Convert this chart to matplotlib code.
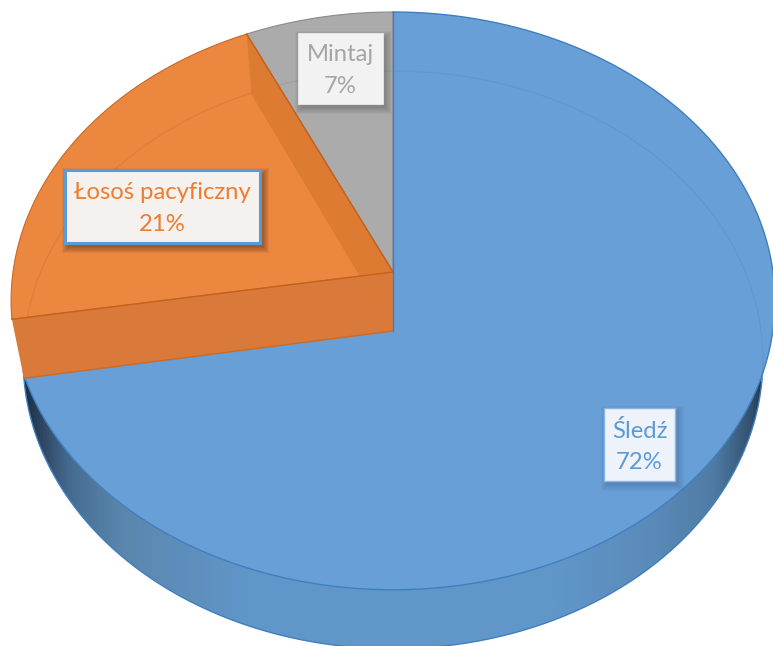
import numpy as np
import matplotlib
matplotlib.use('Agg')
import matplotlib.pyplot as plt
from matplotlib.colors import LinearSegmentedColormap
from matplotlib.patches import Polygon, Rectangle

plt.rcParams['font.family'] = ['Lato', 'Noto Sans', 'DejaVu Sans']

# data
names = ['Śledź', 'Łosoś pacyficzny', 'Mintaj']
values = [72.4, 20.7, 6.9]
label_colors = ['#5B9BD5', '#ED7D31', '#A5A5A5']

# pie geometry in pixels (perspective view)
cx = 393
top_cy = 272
low_cy = 331
top_rx = 380
low_rx = 368
ry = 286
persp = 0.1

ends = np.cumsum(values) / np.sum(values) * 360
blue_end = ends[0]
orange_end = ends[1]


def project(deg, rx, cy):
    t = np.radians(deg)
    x = np.sin(t)
    y = np.cos(t)
    w = 1 + persp * y
    return np.column_stack([cx + rx * x / w, cy - ry * y / w])


def arc(a, b, rx, cy):
    return project(np.linspace(a, b, 300), rx, cy)


fig = plt.figure(figsize=(7.73, 6.46), dpi=100)
ax = fig.add_axes([0, 0, 1, 1])
ax.set_xlim(0, 773)
ax.set_ylim(646, 0)
ax.axis('off')

top_c = np.array([[cx, top_cy]])
low_c = np.array([[cx, low_cy]])

# outer wall with shading, dark at both ends
wall_from = 360 - blue_end
wall_pts = np.vstack([arc(wall_from, blue_end, top_rx, top_cy),
                      arc(blue_end, wall_from, low_rx, low_cy)])
wall_cmap = LinearSegmentedColormap.from_list('wall', [
    (0.0, '#1c2b3f'), (0.025, '#2f4763'), (0.06, '#456b8f'), (0.13, '#5a86ad'),
    (0.30, '#6196c9'), (0.72, '#6196c9'), (0.85, '#5a8ab8'), (0.93, '#4f7ca5'),
    (0.98, '#33506f'), (1.0, '#1c2b3f')])
wall_img = ax.imshow(np.linspace(0, 1, 500).reshape(1, -1), cmap=wall_cmap,
                     extent=[22, 768, 646, 0], aspect='auto', zorder=1)
wall_patch = Polygon(wall_pts, transform=ax.transData, fill=False, edgecolor='none')
ax.add_patch(wall_patch)
wall_img.set_clip_path(wall_patch)
ax.plot(*arc(blue_end, wall_from, low_rx, low_cy).T, color='#3f7fc0', lw=1, zorder=1.5)
ax.set_xlim(0, 773)
ax.set_ylim(646, 0)

# gray slice
gray_pts = np.vstack([top_c, arc(orange_end, 360, top_rx, top_cy)])
ax.add_patch(Polygon(gray_pts, facecolor='#ABABAB', edgecolor='#8a8a8a', lw=0.8, zorder=2))
ax.plot(*arc(orange_end, 360, low_rx, low_cy).T, color='#a0a0a0', lw=0.8, zorder=2.1)

# orange slice: floor, back wall, front wall
orange_pts = np.vstack([top_c, arc(blue_end, orange_end, top_rx, top_cy)])
ax.add_patch(Polygon(orange_pts, facecolor='#EC8740', edgecolor='#C96A25', lw=0.8, zorder=3))
ax.plot(*arc(blue_end, orange_end, low_rx, low_cy).T, color='#e07d38', lw=0.9, zorder=3.1)
back = np.vstack([top_c, project(orange_end, top_rx, top_cy),
                  project(orange_end, low_rx, low_cy), low_c])
ax.add_patch(Polygon(back, facecolor='#DE7B33', edgecolor='none', zorder=3.2))
ax.plot(*np.vstack([top_c, project(orange_end, top_rx, top_cy)]).T,
        color='#C4611C', lw=1, zorder=3.3)
front = np.vstack([top_c, project(blue_end, top_rx, top_cy),
                   project(blue_end, low_rx, low_cy), low_c])
ax.add_patch(Polygon(front, facecolor='#DA7A3A', edgecolor='none', zorder=3.4))
ax.plot(*np.vstack([low_c, project(orange_end, low_rx, low_cy)]).T,
        color='#DE7B33', lw=0.8, zorder=3.45)
ax.plot(*np.vstack([top_c, project(blue_end, top_rx, top_cy)]).T,
        color='#C4611C', lw=1, zorder=3.5)

# blue slice, upper arc stops where it meets the lower corner of the cut
corner = project(blue_end, low_rx, low_cy)
blue_arc = arc(0, blue_end, top_rx, top_cy)
blue_arc = blue_arc[~((blue_arc[:, 0] < cx) & (blue_arc[:, 1] < corner[0, 1]))]
blue_pts = np.vstack([top_c, blue_arc, corner, low_c])
ax.add_patch(Polygon(blue_pts, facecolor='#689FD6', edgecolor='none', zorder=4))
ax.plot(*blue_arc.T, color='#3f7fc0', lw=1, zorder=4.2)
ax.plot(*np.vstack([project(0, top_rx, top_cy), low_c]).T, color='#3f7fc0', lw=1, zorder=4.2)
ax.plot(*np.vstack([low_c, corner]).T, color='#C96A25', lw=1, zorder=4.2)
ax.plot(*arc(0, 100, low_rx, low_cy).T, color='#5f97cf', lw=0.8, zorder=4.1)

# labels
boxes = [(604, 408, 71, 73), (65, 170, 195, 73), (298, 33, 85, 71)]
box_faces = ['#EEF3FB', '#F5F1EE', '#F2F2F2']
box_edges = ['#8db8e3', '#5B9BD5', '#F2F2F2']
box_widths = [1, 2.2, 0.5]
shadow_alpha = [0.02, 0.05, 0.03]
for name, val, col, box, face, edge, lw, sa in zip(names, values, label_colors, boxes,
                                                  box_faces, box_edges, box_widths,
                                                  shadow_alpha):
    x, y, w, h = box
    for grow in [6, 5, 4, 3, 2, 1, 0]:
        ax.add_patch(Rectangle((x + 3 - grow, y + 4 - grow), w + 2 * grow, h + 2 * grow,
                               facecolor='black', alpha=sa, edgecolor='none', zorder=5))
    ax.add_patch(Rectangle((x, y), w, h, facecolor=face, edgecolor=edge, lw=lw, zorder=6))
    ax.text(x + w / 2, y + h / 2 + 2, f'{name}\n{round(val)}%', color=col, fontsize=17.2,
            ha='center', va='center', linespacing=1.6, zorder=7)

fig.savefig('out.png', dpi=100)
